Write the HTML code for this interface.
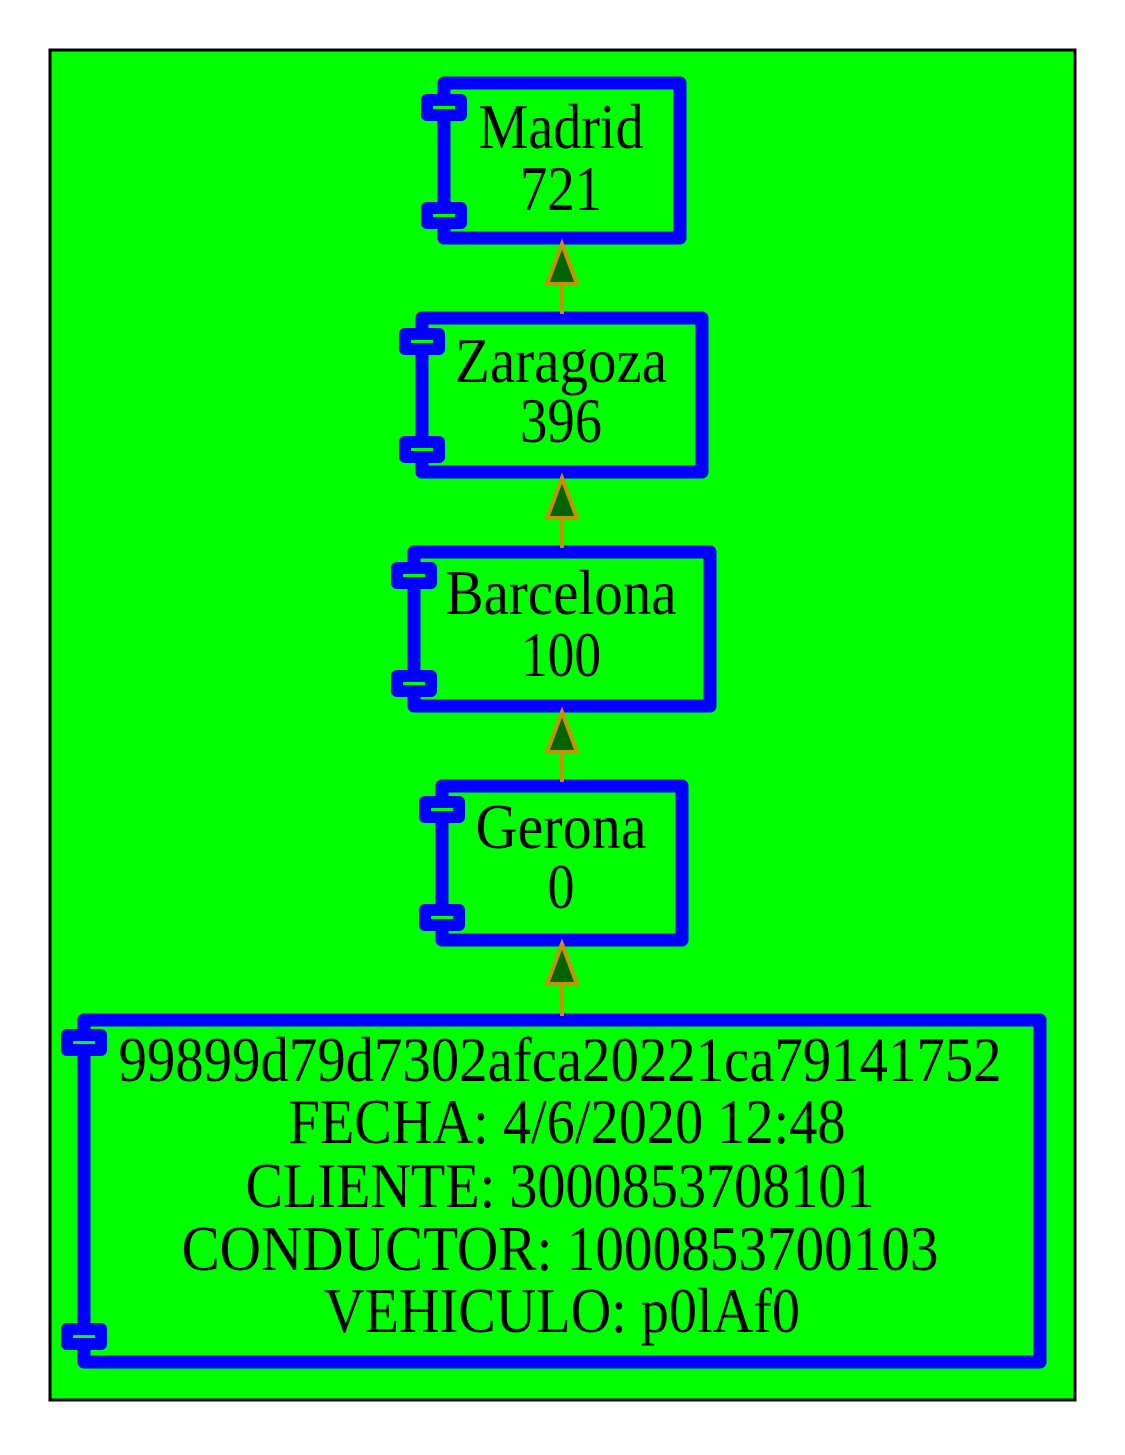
<!DOCTYPE html>
<html><head><meta charset="utf-8"><style>html,body{margin:0;padding:0;background:#fff}</style></head><body>
<svg width="1125" height="1450" viewBox="0 0 1125 1450" xmlns="http://www.w3.org/2000/svg" font-family="Liberation Serif, serif" font-size="64">
<rect x="0" y="0" width="1125" height="1450" fill="#fff"/>
<rect x="50" y="50" width="1025" height="1350" fill="#00ff00" stroke="#000" stroke-width="3"/>
<g fill="none" stroke="#0000ff" stroke-width="13" stroke-linejoin="round">
<rect x="444" y="83" width="236" height="155"/>
<rect x="422" y="318" width="280" height="154"/>
<rect x="414" y="552" width="296" height="154"/>
<rect x="442" y="786" width="240" height="154"/>
<rect x="84" y="1020" width="956" height="342"/>
</g>
<g fill="#00ff00" stroke="#0000ff" stroke-width="12" stroke-linejoin="round">
<rect x="427" y="100" width="34" height="15"/><rect x="427" y="208" width="34" height="15"/>
<rect x="405" y="334" width="34" height="15"/><rect x="405" y="442" width="34" height="15"/>
<rect x="397" y="568" width="34" height="15"/><rect x="397" y="676" width="34" height="15"/>
<rect x="425" y="802" width="34" height="15"/><rect x="425" y="910" width="34" height="15"/>
<rect x="67" y="1035" width="34" height="15"/><rect x="67" y="1329" width="34" height="15"/>
</g>
<g stroke="#c8900a" stroke-width="4" fill="#006400">
<line x1="562" y1="284" x2="562" y2="314"/><polygon points="562,244 547,284 577,284"/>
<line x1="562" y1="518" x2="562" y2="548"/><polygon points="562,478 547,518 577,518"/>
<line x1="562" y1="752" x2="562" y2="782"/><polygon points="562,712 547,752 577,752"/>
<line x1="562" y1="984" x2="562" y2="1016"/><polygon points="562,944 547,984 577,984"/>
</g>
<g fill="#000" text-anchor="middle">
<text x="561" y="148" textLength="165" lengthAdjust="spacingAndGlyphs">Madrid</text>
<text x="561" y="210" textLength="82" lengthAdjust="spacingAndGlyphs">721</text>
<text x="561" y="382" textLength="212" lengthAdjust="spacingAndGlyphs">Zaragoza</text>
<text x="561" y="442" textLength="82" lengthAdjust="spacingAndGlyphs">396</text>
<text x="561" y="614" textLength="231" lengthAdjust="spacingAndGlyphs">Barcelona</text>
<text x="561" y="676" textLength="80" lengthAdjust="spacingAndGlyphs">100</text>
<text x="561" y="848" textLength="171" lengthAdjust="spacingAndGlyphs">Gerona</text>
<text x="561" y="908" textLength="27" lengthAdjust="spacingAndGlyphs">0</text>
<text x="560" y="1081" textLength="883" lengthAdjust="spacingAndGlyphs">99899d79d7302afca20221ca79141752</text>
<text x="567" y="1143" textLength="557" lengthAdjust="spacingAndGlyphs">FECHA: 4/6/2020 12:48</text>
<text x="560" y="1207" textLength="629" lengthAdjust="spacingAndGlyphs">CLIENTE: 3000853708101</text>
<text x="560" y="1270" textLength="757" lengthAdjust="spacingAndGlyphs">CONDUCTOR: 1000853700103</text>
<text x="562" y="1332" textLength="476" lengthAdjust="spacingAndGlyphs">VEHICULO: p0lAf0</text>
</g>
</svg>
</body></html>
